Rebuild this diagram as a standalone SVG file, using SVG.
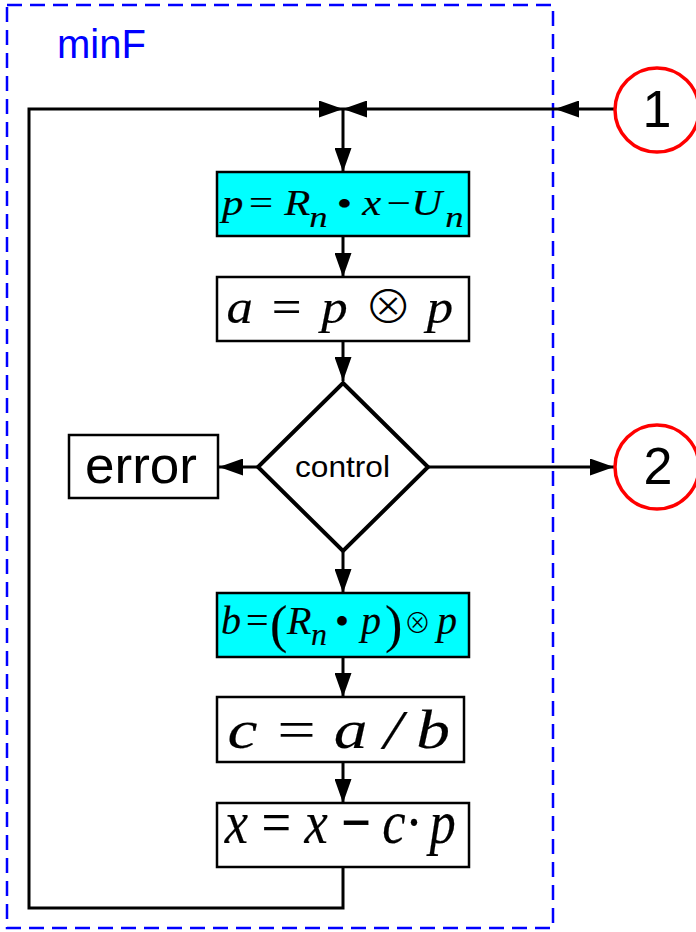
<svg xmlns="http://www.w3.org/2000/svg" width="696" height="932" viewBox="0 0 696 932">
<style>
.box{fill:#fff;stroke:#000;stroke-width:2.5}
.cy{fill:#00FFFF;stroke:#000;stroke-width:2.5}
.ln{fill:none;stroke:#000;stroke-width:3}
.m{font-family:"Liberation Serif","DejaVu Serif",serif;font-style:italic;fill:#000;stroke:#000;stroke-width:0.15}
.n{font-style:normal}
.o{font-family:"Noto Sans CJK SC","DejaVu Sans",sans-serif;font-style:normal;font-weight:300;stroke-width:0}
.s{font-family:"Liberation Sans",Arial,sans-serif;fill:#000}
.circ{fill:#fff;stroke:#FF0000;stroke-width:3.5}
</style>
<defs>
<marker id="ah" markerUnits="userSpaceOnUse" markerWidth="24" markerHeight="17" viewBox="0 0 24 17" refX="24" refY="8.5" orient="auto">
<path d="M0,0 L24,8.5 L0,17 z" fill="#000"/>
</marker>
</defs>
<rect x="7" y="5" width="546" height="923" fill="none" stroke="#0000FF" stroke-width="2.5" stroke-dasharray="15 8"/>
<text x="57" y="58" font-family="Liberation Sans,Arial,sans-serif" font-size="40" fill="#0000FF">minF</text>
<g id="connectors">
<path class="ln" d="M614,109 H555" marker-end="url(#ah)"/>
<path class="ln" d="M555,109 H343" marker-end="url(#ah)"/>
<path class="ln" d="M343,867 V908 H29 V109 H343" marker-end="url(#ah)"/>
<path class="ln" d="M343,109 V172" marker-end="url(#ah)"/>
<path class="ln" d="M343,236 V277" marker-end="url(#ah)"/>
<path class="ln" d="M343,341 V381" marker-end="url(#ah)"/>
<path class="ln" d="M258,467 H219" marker-end="url(#ah)"/>
<path class="ln" d="M428,467 H614" marker-end="url(#ah)"/>
<path class="ln" d="M343,552 V593" marker-end="url(#ah)"/>
<path class="ln" d="M343,657 V697" marker-end="url(#ah)"/>
<path class="ln" d="M343,762 V803" marker-end="url(#ah)"/>
</g>
<g id="c1">
<circle class="circ" cx="657" cy="110" r="42"/>
<text class="s" x="657" y="127" font-size="52" text-anchor="middle">1</text>
</g>
<g id="c2">
<circle class="circ" cx="657" cy="467" r="42"/>
<text class="s" x="658" y="484" font-size="52" text-anchor="middle">2</text>
</g>
<g id="n1">
<rect class="cy" x="217" y="172" width="252" height="64"/>
<text class="m" font-size="35" transform="scale(1.22,1)">
<tspan x="182" y="215">p</tspan><tspan class="n" x="204" y="215">=</tspan><tspan x="233" y="215">R</tspan><tspan x="253.5" y="227" font-size="30">n</tspan><tspan class="n" x="276" y="216" font-size="36">•</tspan><tspan x="297" y="215">x</tspan><tspan class="n" x="317" y="215">−</tspan><tspan x="337" y="215">U</tspan><tspan x="365" y="227" font-size="30">n</tspan>
</text>
</g>
<g id="n2">
<rect class="box" x="217" y="277" width="252" height="64"/>
<text class="m" font-size="48" transform="scale(1.1,1)">
<tspan x="206" y="323">a</tspan><tspan class="n" x="247" y="323">=</tspan><tspan x="292" y="323">p</tspan><tspan class="o" x="331" y="323" font-size="44">⊗</tspan><tspan x="388" y="323">p</tspan>
</text>
</g>
<g id="n3">
<polygon points="343,383 428,467 343,551 258,467" fill="#fff" stroke="#000" stroke-width="4"/>
<text class="s" x="295" y="477" font-size="29" textLength="95" lengthAdjust="spacingAndGlyphs">control</text>
</g>
<g id="n4">
<rect class="box" x="69" y="435" width="149" height="63"/>
<text class="s" x="85" y="483" font-size="52" textLength="112" lengthAdjust="spacingAndGlyphs">error</text>
</g>
<g id="n5">
<rect class="cy" x="217" y="593" width="252" height="64"/>
<text class="m" font-size="40">
<tspan x="221" y="634">b</tspan><tspan class="n" x="246" y="634">=</tspan><tspan class="n" x="270" y="642" font-size="52">(</tspan><tspan x="287" y="634">R</tspan><tspan x="311" y="645" font-size="32">n</tspan><tspan class="n" x="335" y="635" font-size="40">•</tspan><tspan x="361" y="634">p</tspan><tspan class="n" x="385" y="642" font-size="52">)</tspan><tspan class="o" x="404" y="633" font-size="27">⊗</tspan><tspan x="437" y="634">p</tspan>
</text>
</g>
<g id="n6">
<rect class="box" x="217" y="697" width="247" height="65"/>
<text class="m" font-size="54" transform="scale(1.25,1)">
<tspan x="182" y="748">c</tspan><tspan class="n" x="222" y="748">=</tspan><tspan x="267" y="748">a</tspan><tspan x="307" y="748">/</tspan><tspan x="333" y="748">b</tspan>
</text>
</g>
<g id="n7">
<rect class="box" x="217" y="803" width="252" height="64"/>
<text class="m" font-size="50" transform="translate(0,843) scale(1.05,1.22) translate(0,-843)">
<tspan x="214" y="843">x</tspan><tspan class="n" x="249" y="843">=</tspan><tspan x="290" y="843">x</tspan><tspan class="n" x="325" y="843" font-weight="bold">−</tspan><tspan x="364" y="843">c</tspan><tspan class="n" x="386" y="843">·</tspan><tspan x="409" y="843">p</tspan>
</text>
</g>
</svg>
